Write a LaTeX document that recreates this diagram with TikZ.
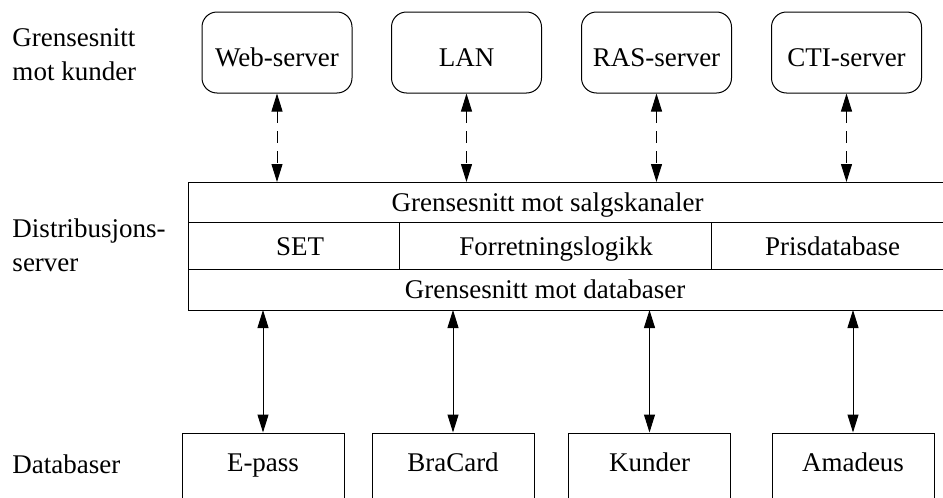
\documentclass[tikz,border=0pt]{standalone}
\usepackage{fontspec}
\setmainfont{Liberation Serif}
\usetikzlibrary{arrows.meta}

\tikzset{
  kanal/.style={draw, rounded corners=15pt, minimum width=150pt, minimum height=81pt,
    inner sep=0pt, text height=28pt, text depth=0pt},
  dbboks/.style={draw, minimum width=162pt, minimum height=80pt,
    inner sep=0pt, text height=18pt, text depth=21pt},
  celle/.style={inner sep=0pt, text height=18pt, text depth=0pt},
  lag/.style={inner sep=0pt, align=left, anchor=base west},
  tips/.style={{Triangle[length=18pt,width=11pt]}-{Triangle[length=18pt,width=11pt]}},
  stiplet/.style={tips, dash pattern=on 12pt off 8pt}
}

\begin{document}
\begin{tikzpicture}[x=1pt,y=-1pt,line width=1pt,font=\fontsize{27}{34}\selectfont]
\useasboundingbox (0,0) rectangle (943,498);
\clip (0,0) rectangle (943,498);

% lagene til venstre (base = siste linje)
\node[lag] (lagkunder) at (12,80) {Grensesnitt\\mot kunder};
\node[lag] (lagserver) at (12,271) {Distribusjons-\\server};
\node[lag] (lagdb) at (12,473) {Databaser};

% salgskanaler
\node[kanal] (web) at (277,52.5) {Web-server};
\node[kanal] (lan) at (466.5,52.5) {LAN};
\node[kanal] (ras) at (656.5,52.5) {RAS-server};
\node[kanal] (cti) at (846.5,52.5) {CTI-server};

% distribusjonsserveren
\draw (188,182) rectangle (960,310);
\draw (188,222) -- (960,222);
\draw (188,269) -- (960,269);
\draw (399,222) -- (399,269);
\draw (711,222) -- (711,269);
\coordinate (salgtopp) at (188,182);
\coordinate (dbbunn) at (188,310);

\node[celle] (salg) at (547.5,202) {Grensesnitt mot salgskanaler};
\node[celle] (set) at (300,246) {SET};
\node[celle] (logikk) at (556,246) {Forretningslogikk};
\node[celle] (pris) at (832.5,246) {Prisdatabase};
\node[celle] (dbgr) at (545,289.5) {Grensesnitt mot databaser};

% databaser
\node[dbboks] (epass) at (263,473) {E-pass};
\node[dbboks] (bracard) at (453,473) {BraCard};
\node[dbboks] (kunder) at (649.5,473) {Kunder};
\node[dbboks] (amadeus) at (853,473) {Amadeus};

\foreach \k in {web,lan,ras,cti}
  \draw[stiplet] (\k.south) -- (\k.south |- salgtopp);
\foreach \d in {epass,bracard,kunder,amadeus}
  \draw[tips] (\d.north |- dbbunn) -- (\d.north);
\end{tikzpicture}
\end{document}
